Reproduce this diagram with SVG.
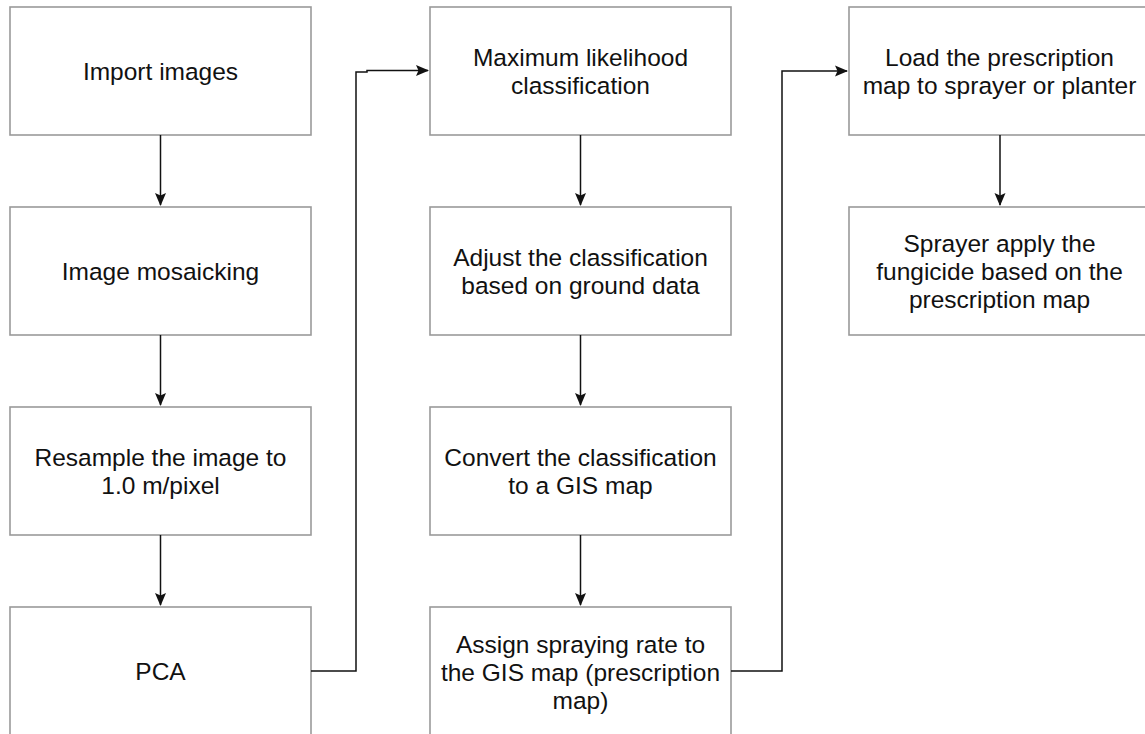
<svg xmlns="http://www.w3.org/2000/svg" width="1145" height="734" viewBox="0 0 1145 734">
  <style>
    .box { fill: #ffffff; stroke: #9a9a9a; stroke-width: 1.6; }
    .lbl { font-family: "Liberation Sans", Arial, Helvetica, sans-serif; font-size: 24.5px; fill: #111111; text-anchor: middle; }
    .edge { fill: none; stroke: #111111; stroke-width: 1.5; }
  </style>
  <defs>
    <marker id="arrow" viewBox="0 0 13 12" refX="12" refY="6" markerWidth="13" markerHeight="12" markerUnits="userSpaceOnUse" orient="auto">
      <path d="M0,0.5 L13,6 L0,11.5 L2.5,6 Z" fill="#111111"/>
    </marker>
  </defs>
  <rect width="1145" height="734" fill="#ffffff"/>

  <!-- Column 1 -->
  <g id="import-images">
    <rect class="box" x="10" y="7" width="301" height="128"/>
    <text class="lbl" x="160.5" y="80">Import images</text>
  </g>
  <g id="image-mosaicking">
    <rect class="box" x="10" y="207" width="301" height="128"/>
    <text class="lbl" x="160.5" y="280">Image mosaicking</text>
  </g>
  <g id="resample">
    <rect class="box" x="10" y="407" width="301" height="128"/>
    <text class="lbl" x="160.5" y="466">Resample the image to</text>
    <text class="lbl" x="160.5" y="494">1.0 m/pixel</text>
  </g>
  <g id="pca">
    <rect class="box" x="10" y="607" width="301" height="140"/>
    <text class="lbl" x="160.5" y="680">PCA</text>
  </g>

  <!-- Column 2 -->
  <g id="max-likelihood">
    <rect class="box" x="430" y="7" width="301" height="128"/>
    <text class="lbl" x="580.5" y="66">Maximum likelihood</text>
    <text class="lbl" x="580.5" y="94">classification</text>
  </g>
  <g id="adjust-classification">
    <rect class="box" x="430" y="207" width="301" height="128"/>
    <text class="lbl" x="580.5" y="266">Adjust the classification</text>
    <text class="lbl" x="580.5" y="294">based on ground data</text>
  </g>
  <g id="convert-gis">
    <rect class="box" x="430" y="407" width="301" height="128"/>
    <text class="lbl" x="580.5" y="466">Convert the classification</text>
    <text class="lbl" x="580.5" y="494">to a GIS map</text>
  </g>
  <g id="assign-rate">
    <rect class="box" x="430" y="607" width="301" height="140"/>
    <text class="lbl" x="580.5" y="653">Assign spraying rate to</text>
    <text class="lbl" x="580.5" y="681">the GIS map (prescription</text>
    <text class="lbl" x="580.5" y="709">map)</text>
  </g>

  <!-- Column 3 -->
  <g id="load-map">
    <rect class="box" x="849" y="7" width="301" height="128"/>
    <text class="lbl" x="999.5" y="66">Load the prescription</text>
    <text class="lbl" x="999.5" y="94">map to sprayer or planter</text>
  </g>
  <g id="sprayer-apply">
    <rect class="box" x="849" y="207" width="301" height="128"/>
    <text class="lbl" x="999.5" y="252">Sprayer apply the</text>
    <text class="lbl" x="999.5" y="280">fungicide based on the</text>
    <text class="lbl" x="999.5" y="308">prescription map</text>
  </g>

  <!-- Connectors -->
  <g id="connectors">
    <path class="edge" d="M160.5,135 V205" marker-end="url(#arrow)"/>
    <path class="edge" d="M160.5,335 V405" marker-end="url(#arrow)"/>
    <path class="edge" d="M160.5,535 V605" marker-end="url(#arrow)"/>
    <path class="edge" d="M311,671 H356 V72 H367 V70.5 H428" marker-end="url(#arrow)"/>
    <path class="edge" d="M580.5,135 V205" marker-end="url(#arrow)"/>
    <path class="edge" d="M580.5,335 V405" marker-end="url(#arrow)"/>
    <path class="edge" d="M580.5,535 V605" marker-end="url(#arrow)"/>
    <path class="edge" d="M731,671 H782 V71 H847" marker-end="url(#arrow)"/>
    <path class="edge" d="M1000,135 V205" marker-end="url(#arrow)"/>
  </g>
</svg>
